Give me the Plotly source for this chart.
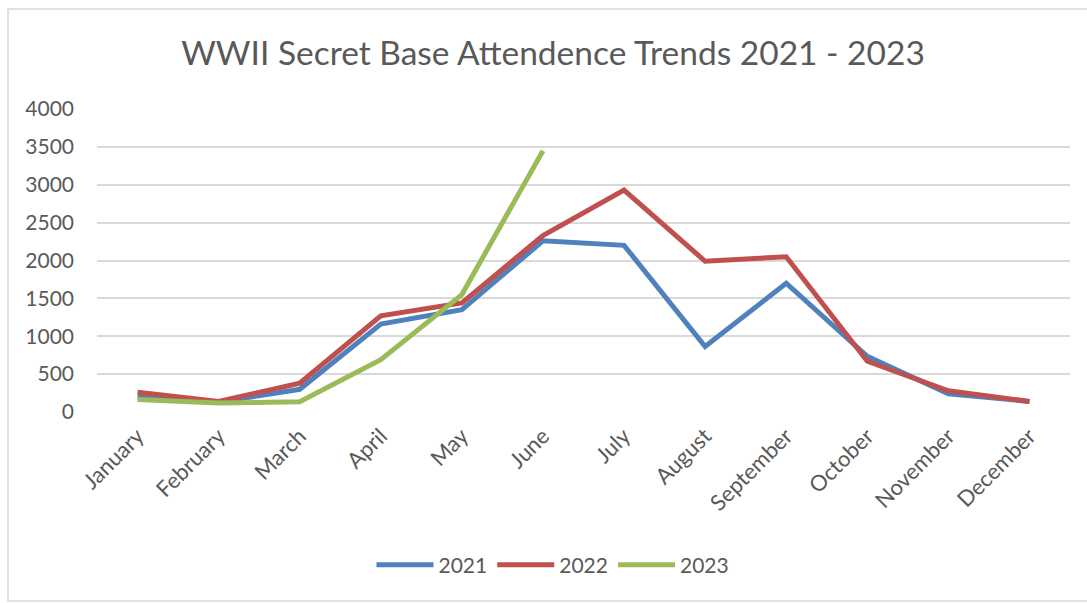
import plotly.graph_objects as go

# Monthly attendance, 2021-2023
months = ["January", "February", "March", "April", "May", "June",
          "July", "August", "September", "October", "November", "December"]
att_2021 = [200, 130, 300, 1160, 1350, 2260, 2200, 865, 1700, 735, 240, 140]
att_2022 = [260, 140, 380, 1270, 1440, 2330, 2930, 1990, 2050, 670, 280, 140]
att_2023 = [165, 120, 135, 690, 1550, 3450]
y_ticks = [0, 500, 1000, 1500, 2000, 2500, 3000, 3500, 4000]

FONT = "Lato"
TEXT = "#595959"
W, H = 1087, 603
L, R, T, B = 97, 17, 109, 191  # plot-area margins in px

series = [
    ("2021", att_2021, "#4F81BD"),
    ("2022", att_2022, "#C0504D"),
    ("2023", att_2023, "#9BBB59"),
]

fig = go.Figure()
for name, vals, color in series:
    fig.add_trace(go.Scatter(
        x=months[:len(vals)], y=vals, name=name, mode="lines",
        line=dict(color=color, width=5),
    ))

pw, ph = W - L - R, H - T - B


def px_x(px):
    return (px - L) / pw


def px_y(py):
    return (H - B - py) / ph


# outer chart frame
fig.add_shape(type="rect", xref="paper", yref="paper",
              x0=px_x(8), x1=px_x(1095), y0=px_y(601), y1=px_y(9),
              line=dict(color="#D9D9D9", width=1.5), fillcolor="rgba(0,0,0,0)",
              layer="below")

fig.update_layout(
    width=W, height=H,
    margin=dict(l=L, r=R, t=T, b=B),
    paper_bgcolor="white", plot_bgcolor="white",
    font=dict(family=FONT, color=TEXT, size=20),
    title=dict(text="WWII Secret Base Attendence Trends 2021 - 2023",
               x=553 / W, xref="container", xanchor="center",
               y=1 - 53 / H, yanchor="middle",
               font=dict(family=FONT, size=33.5, color=TEXT)),
    showlegend=True,
    legend=dict(orientation="h", x=px_x(553), xanchor="center",
                y=px_y(565), yanchor="middle", itemwidth=57,
                font=dict(size=21, color=TEXT), traceorder="normal"),
    xaxis=dict(
        categoryorder="array", categoryarray=months,
        range=[-0.5, 11.5], showgrid=False, zeroline=False,
        showline=False, ticks="", tickangle=-45,
        ticklabelstandoff=6,
        tickfont=dict(size=22, color=TEXT),
    ),
    yaxis=dict(
        range=[0, 4000], tickvals=y_ticks,
        ticktext=[str(v) for v in y_ticks],
        showgrid=True, gridcolor="#D9D9D9", gridwidth=1.5,
        zeroline=False, showline=False, ticks="",
        ticklabelstandoff=22,
        tickfont=dict(size=21, color=TEXT),
    ),
)

fig.write_html("out.html")
